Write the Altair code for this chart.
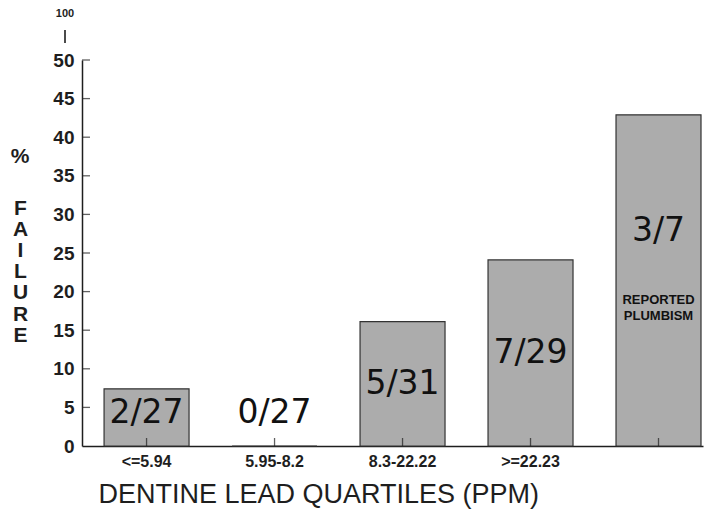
import altair as alt
import pandas as pd

# ---- data ----
groups = ["<=5.94", "5.95-8.2", "8.3-22.22", ">=22.23", " "]
pct_failure = [7.4, 0.0, 16.1, 24.1, 42.9]
counts = ["2/27", "0/27", "5/31", "7/29", "3/7"]
notes = ["", "", "", "", "REPORTED\nPLUMBISM"]
y_tick_values = [0, 5, 10, 15, 20, 25, 30, 35, 40, 45, 50]
y_title_letters = list("FAILURE")

df = pd.DataFrame({"group": groups, "pct": pct_failure, "count": counts, "note": notes})
tick_df = pd.DataFrame({"t": y_tick_values[1:]})
one = pd.DataFrame({"a": [0]})

BOLD = "Liberation Sans"
INK = "#1e1e1e"

x_axis = alt.Axis(
    title="DENTINE LEAD QUARTILES (PPM)",
    titleFont="Liberation Sans",
    titleFontSize=27,
    titleFontWeight="normal",
    titleColor=INK,
    titleAnchor="start",
    titleAlign="left",
    titleX=16,
    titleY=56,
    titleBaseline="alphabetic",
    labelFont=BOLD,
    labelFontWeight="bold",
    labelFontSize=16,
    labelColor=INK,
    labelAngle=0,
    labelPadding=7,
    labelOverlap=False,
    ticks=False,
    tickSize=0,
    domainColor=INK,
    domainWidth=1.5,
)

y_axis = alt.Axis(
    values=y_tick_values,
    title=y_title_letters,
    titleAngle=0,
    titleFont=BOLD,
    titleFontWeight="bold",
    titleFontSize=21,
    titleLineHeight=21.2,
    titleColor=INK,
    titleAlign="center",
    titleBaseline="alphabetic",
    titleX=-62,
    titleY=154,
    labelFont=BOLD,
    labelFontWeight="bold",
    labelFontSize=19,
    labelColor=INK,
    labelPadding=8,
    labelOverlap=False,
    labelFlush=False,
    ticks=False,
    tickSize=0,
    grid=False,
    domainColor=INK,
    domainWidth=1.5,
)

x_enc = alt.X(
    "group:N",
    sort=groups,
    scale=alt.Scale(paddingInner=0.336, paddingOuter=0.094, align=0.917),
    axis=x_axis,
)
y_scale = alt.Scale(domain=[0, 50], nice=False, zero=True)

base = alt.Chart(df).transform_calculate(
    label_y="datum.note != '' ? datum.pct * 0.65 : max(datum.pct / 2, 4.3)"
)

bars = base.mark_bar(fill="#acacac", stroke="#333333", strokeWidth=1.2).encode(
    x=x_enc, y=alt.Y("pct:Q", scale=y_scale, axis=y_axis)
)

count_text = base.mark_text(
    font="DejaVu Sans", fontSize=33, baseline="middle", color="#111111"
).encode(x=x_enc, y=alt.Y("label_y:Q", scale=y_scale, axis=y_axis), text="count:N")

note_text = (
    base.transform_filter("datum.note != ''")
    .mark_text(
        font=BOLD,
        fontWeight="bold",
        fontSize=13,
        lineBreak="\n",
        lineHeight=16,
        baseline="middle",
        dy=69,
        color="#111111",
    )
    .encode(x=x_enc, y=alt.Y("label_y:Q", scale=y_scale, axis=y_axis), text="note:N")
)

x_ticks = base.mark_tick(orient="vertical", size=8, thickness=1.3, color=INK).encode(
    x=x_enc, y=alt.value(382)
)

y_ticks = (
    alt.Chart(tick_df)
    .mark_tick(orient="horizontal", size=8, thickness=1.3, color=INK)
    .encode(y=alt.Y("t:Q", scale=y_scale, axis=y_axis), x=alt.value(4))
)

pct_sign = (
    alt.Chart(one)
    .mark_text(text="%", font=BOLD, fontWeight="bold", fontSize=21, color=INK)
    .encode(x=alt.value(-62), y=alt.value(97))
)
hundred = (
    alt.Chart(one)
    .mark_text(text="100", font=BOLD, fontWeight="bold", fontSize=11, color=INK)
    .encode(x=alt.value(-17), y=alt.value(-46))
)
break_bar = (
    alt.Chart(one)
    .mark_rule(color=INK, strokeWidth=1.6)
    .encode(x=alt.value(-17), y=alt.value(-30), y2=alt.value(-17))
)

chart = (
    alt.layer(bars, count_text, note_text, x_ticks, y_ticks, pct_sign, hundred, break_bar)
    .properties(
        width=621,
        height=386,
        autosize=alt.AutoSizeParams(type="none"),
        padding={"left": 74, "top": 52, "right": 4, "bottom": 64},
        background="white",
    )
    .configure_view(stroke=None)
)

chart.save("out.html", embed_options={"renderer": "svg", "actions": False})
